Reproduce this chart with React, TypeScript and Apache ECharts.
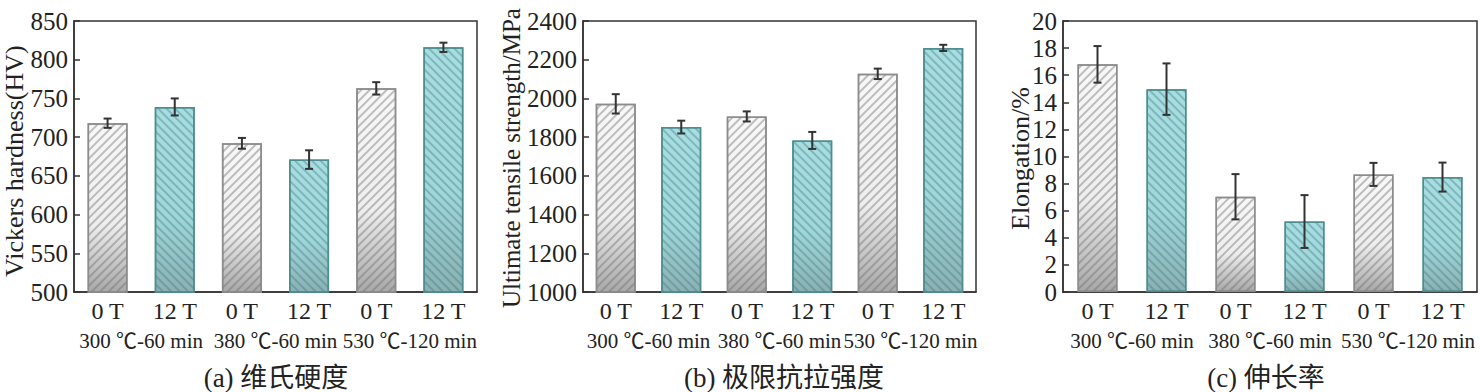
import React, { useEffect, useRef } from "react";
import * as echarts from "echarts";

const categories = ["0 T", "12 T", "0 T", "12 T", "0 T", "12 T"];
const groups = ["300 ℃-60 min", "380 ℃-60 min", "530 ℃-120 min"];

const hardness = [718, 739, 692, 671, 763, 816];
const hardnessErr = [6, 11, 7, 12, 8, 6];
const strength = [1972, 1852, 1907, 1783, 2127, 2261];
const strengthErr = [50, 33, 26, 44, 27, 16];
const elongation = [16.8, 14.97, 7.03, 5.2, 8.68, 8.48];
const elongationErr = [1.35, 1.9, 1.67, 1.95, 0.85, 1.07];

const yRanges = [
  { min: 500, max: 850, interval: 50 },
  { min: 1000, max: 2400, interval: 200 },
  { min: 0, max: 20, interval: 2 },
];
const yNames = ["Vickers hardness(HV)", "Ultimate tensile strength/MPa", "Elongation/%"];
const titles = ["(a) 维氏硬度", "(b) 极限抗拉强度", "(c) 伸长率"];

const SERIF = "'Liberation Serif', 'Times New Roman', 'Noto Sans CJK SC', serif";

const grids = [
  { left: 74, top: 21, width: 403, height: 271 },
  { left: 583, top: 21, width: 393, height: 271 },
  { left: 1063, top: 21, width: 414, height: 271 },
];

const grayStyle = {
  color: {
    type: "linear", x: 0, y: 0, x2: 0, y2: 1,
    colorStops: [
      { offset: 0, color: "#f8f8f8" },
      { offset: 0.6, color: "#eeeeee" },
      { offset: 1, color: "#a8a8a8" },
    ],
  },
  borderColor: "#8c8c8c",
  borderWidth: 1.5,
  decal: {
    symbol: "rect",
    symbolSize: 1,
    dashArrayX: [1, 0],
    dashArrayY: [1.5, 3.8],
    rotation: -Math.PI / 4,
    color: "rgba(110,110,110,0.42)",
  },
};
const tealStyle = {
  color: {
    type: "linear", x: 0, y: 0, x2: 0, y2: 1,
    colorStops: [
      { offset: 0, color: "#a8dee1" },
      { offset: 0.6, color: "#a0d7da" },
      { offset: 1, color: "#8ab0b2" },
    ],
  },
  borderColor: "#4f8e90",
  borderWidth: 1.5,
  decal: {
    symbol: "rect",
    symbolSize: 1,
    dashArrayX: [1, 0],
    dashArrayY: [1.5, 3.8],
    rotation: Math.PI / 4,
    color: "rgba(60,120,125,0.38)",
  },
};

const panels = [
  { values: hardness, errs: hardnessErr },
  { values: strength, errs: strengthErr },
  { values: elongation, errs: elongationErr },
];

function buildOption() {
  const xAxis: any[] = [];
  const yAxis: any[] = [];
  const series: any[] = [];
  grids.forEach((_, i) => {
    xAxis.push({
      type: "category",
      gridIndex: i,
      data: categories,
      axisLine: { show: true, lineStyle: { color: "#333", width: 1.5 } },
      axisTick: { show: false },
      axisLabel: { fontFamily: SERIF, fontSize: 24, color: "#222", margin: 7, interval: 0 },
      splitLine: { show: false },
    });
  });
  grids.forEach((_, i) => {
    xAxis.push({
      type: "category",
      gridIndex: i,
      data: groups,
      position: "bottom",
      axisLine: { show: false },
      axisTick: { show: false },
      axisLabel: { fontFamily: SERIF, fontSize: 21, color: "#222", margin: 38, interval: 0 },
      splitLine: { show: false },
    });
  });
  grids.forEach((_, i) => {
    yAxis.push({
      type: "value",
      gridIndex: i,
      min: yRanges[i].min,
      max: yRanges[i].max,
      interval: yRanges[i].interval,
      axisLine: { show: true, lineStyle: { color: "#333", width: 1.5 } },
      axisTick: { show: true, inside: true, length: 6, lineStyle: { color: "#333", width: 1.5 } },
      axisLabel: {
        fontFamily: SERIF, fontSize: 25, color: "#222", margin: 6,
        formatter: (v: number) => String(v),
      },
      splitLine: { show: false },
    });
  });
  panels.forEach((p, i) => {
    series.push({
      type: "bar",
      xAxisIndex: i,
      yAxisIndex: i,
      barWidth: 40,
      data: p.values.map((v, k) => ({ value: v, itemStyle: k % 2 === 0 ? grayStyle : tealStyle })),
      z: 2,
    });
    series.push({
      type: "custom",
      xAxisIndex: i,
      yAxisIndex: i,
      z: 5,
      encode: { x: 0, y: 1 },
      data: p.values.map((v, k) => [k, v, p.errs[k]]),
      renderItem: (params: any, api: any) => {
        const x = api.value(0);
        const v = api.value(1);
        const e = api.value(2);
        const top = api.coord([x, v + e]);
        const bot = api.coord([x, v - e]);
        const w = 4;
        const st = { stroke: "#333", lineWidth: 2 };
        return {
          type: "group",
          children: [
            { type: "line", shape: { x1: top[0], y1: top[1], x2: bot[0], y2: bot[1] }, style: st },
            { type: "line", shape: { x1: top[0] - w, y1: top[1], x2: top[0] + w, y2: top[1] }, style: st },
            { type: "line", shape: { x1: bot[0] - w, y1: bot[1], x2: bot[0] + w, y2: bot[1] }, style: st },
          ],
        };
      },
    });
  });

  const nameAnchors = [
    { x: 14, y: 277, size: 26 },
    { x: 511, y: 308, size: 25 },
    { x: 1020, y: 230, size: 26 },
  ];
  const titleCenters = [276, 784, 1266];
  const graphic: any[] = [];
  nameAnchors.forEach((a, i) => {
    graphic.push({
      type: "text",
      x: a.x,
      y: a.y,
      rotation: Math.PI / 2,
      style: {
        text: yNames[i],
        fontFamily: SERIF,
        fontSize: a.size,
        fill: "#222",
        align: "left",
        verticalAlign: "middle",
      },
    });
  });
  titleCenters.forEach((c, i) => {
    graphic.push({
      type: "text",
      x: c,
      y: 378,
      style: {
        text: titles[i],
        fontFamily: SERIF,
        fontSize: 27,
        fill: "#222",
        align: "center",
        verticalAlign: "middle",
      },
    });
  });

  return {
    animation: false,
    backgroundColor: "#ffffff",
    grid: grids.map((g) => ({ ...g, show: true, borderColor: "#333", borderWidth: 1.5, backgroundColor: "transparent" })),
    xAxis,
    yAxis,
    series,
    graphic,
  };
}

export default function App() {
  const ref = useRef<HTMLDivElement>(null);
  useEffect(() => {
    if (!ref.current) return;
    const chart = echarts.init(ref.current, null, { renderer: "svg" });
    chart.setOption(buildOption() as any);
    return () => chart.dispose();
  }, []);
  return (
    <div
      ref={ref}
      style={{ position: "fixed", left: 0, top: 0, width: 1480, height: 392, background: "#fff" }}
    />
  );
}
